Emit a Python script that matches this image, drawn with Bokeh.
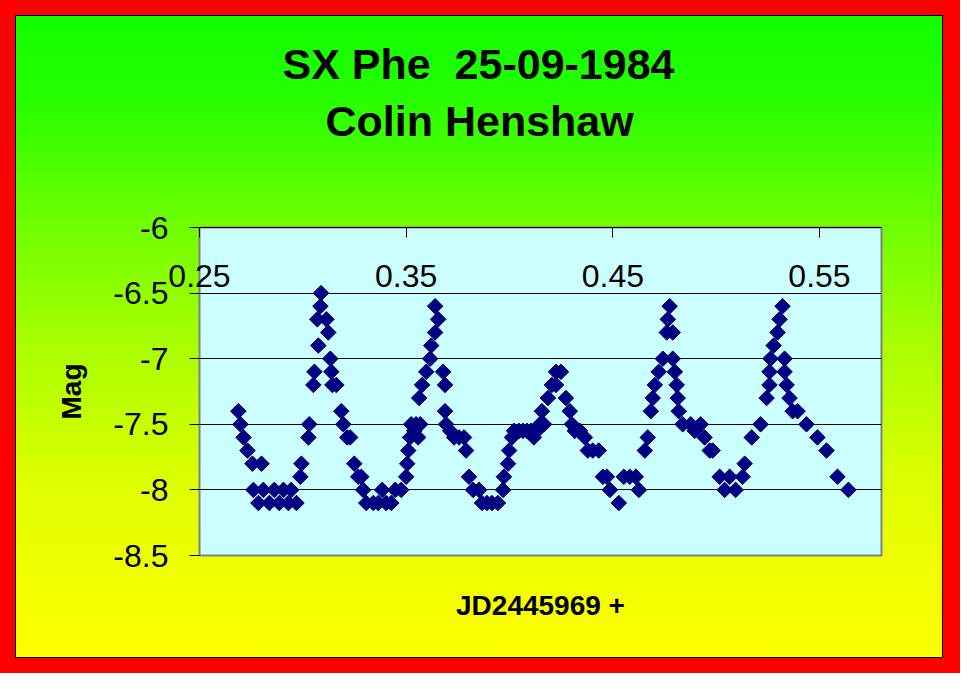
import numpy as np
from bokeh.plotting import figure
from bokeh.models import (Range1d, FixedTicker, LinearAxis, Title,
                          NumeralTickFormatter, ColumnDataSource)
from bokeh.embed import file_html
from bokeh.resources import INLINE

# ---- data ----
jd = [0.2688, 0.2698, 0.2713, 0.2732, 0.2756, 0.2761, 0.2785, 0.2800, 0.2809, 0.2838,
      0.2862, 0.2886, 0.2906, 0.2930, 0.2944, 0.2969, 0.2988, 0.2993, 0.3027, 0.3031,
      0.3051, 0.3056, 0.3070, 0.3075, 0.3085, 0.3088, 0.3114, 0.3123, 0.3133, 0.3138,
      0.3143, 0.3162, 0.3186, 0.3196, 0.3215, 0.3229, 0.3249, 0.3268, 0.3283, 0.3292,
      0.3307, 0.3341, 0.3365, 0.3384, 0.3403, 0.3428, 0.3447, 0.3476, 0.3500, 0.3505,
      0.3510, 0.3519, 0.3524, 0.3539, 0.3548, 0.3558, 0.3563, 0.3568, 0.3577, 0.3597,
      0.3616, 0.3621, 0.3640, 0.3640, 0.3655, 0.3679, 0.3688, 0.3688, 0.3693, 0.3713,
      0.3732, 0.3756, 0.3780, 0.3790, 0.3804, 0.3824, 0.3853, 0.3867, 0.3891, 0.3915,
      0.3944, 0.3969, 0.3973, 0.3993, 0.3998, 0.4012, 0.4022, 0.4046, 0.4065, 0.4085,
      0.4104, 0.4118, 0.4133, 0.4147, 0.4157, 0.4167, 0.4186, 0.4205, 0.4225, 0.4225,
      0.4249, 0.4273, 0.4292, 0.4302, 0.4316, 0.4341, 0.4365, 0.4379, 0.4403, 0.4432,
      0.4452, 0.4471, 0.4486, 0.4529, 0.4553, 0.4582, 0.4611, 0.4626, 0.4655, 0.4669,
      0.4684, 0.4693, 0.4703, 0.4722, 0.4742, 0.4761, 0.4766, 0.4775, 0.4790, 0.4790,
      0.4800, 0.4809, 0.4814, 0.4819, 0.4838, 0.4877, 0.4896, 0.4925, 0.4944, 0.4969,
      0.4983, 0.5017, 0.5041, 0.5065, 0.5094, 0.5128, 0.5138, 0.5172, 0.5215, 0.5244,
      0.5258, 0.5258, 0.5263, 0.5278, 0.5297, 0.5307, 0.5321, 0.5331, 0.5331, 0.5341,
      0.5355, 0.5370, 0.5394, 0.5437, 0.5490, 0.5534, 0.5587, 0.5640]
mag = [-7.4, -7.5, -7.6, -7.7, -7.8, -8.0, -8.1, -7.8, -8.0, -8.1,
       -8.0, -8.1, -8.0, -8.1, -8.0, -8.1, -7.9, -7.8, -7.6, -7.5,
       -7.2, -7.1, -6.7, -6.9, -6.6, -6.5, -6.7, -6.8, -7.0, -7.1,
       -7.2, -7.2, -7.4, -7.5, -7.6, -7.6, -7.8, -7.9, -7.9, -8.0,
       -8.1, -8.1, -8.1, -8.0, -8.1, -8.1, -8.0, -8.0, -7.9, -7.8,
       -7.7, -7.6, -7.5, -7.55, -7.5, -7.6, -7.3, -7.5, -7.2, -7.1,
       -7.0, -6.9, -6.8, -6.6, -6.7, -7.1, -7.2, -7.4, -7.5, -7.55,
       -7.6, -7.6, -7.6, -7.7, -7.9, -8.0, -8.0, -8.1, -8.1, -8.1,
       -8.1, -8.0, -7.9, -7.8, -7.7, -7.6, -7.55, -7.55, -7.55, -7.55,
       -7.55, -7.6, -7.55, -7.5, -7.4, -7.5, -7.3, -7.2, -7.2, -7.1,
       -7.1, -7.3, -7.4, -7.5, -7.55, -7.55, -7.6, -7.7, -7.7, -7.7,
       -7.9, -7.9, -8.0, -8.1, -7.9, -7.9, -7.9, -8.0, -7.7, -7.6,
       -7.4, -7.3, -7.2, -7.1, -7.0, -6.8, -6.7, -6.6, -6.8, -7.0,
       -7.1, -7.2, -7.3, -7.4, -7.5, -7.5, -7.55, -7.5, -7.6, -7.7,
       -7.7, -7.9, -8.0, -7.9, -8.0, -7.9, -7.8, -7.6, -7.5, -7.3,
       -7.2, -7.1, -7.0, -6.9, -6.8, -6.7, -6.6, -7.0, -7.1, -7.2,
       -7.3, -7.4, -7.4, -7.5, -7.6, -7.7, -7.9, -8.0]

x_ticks = [0.25, 0.35, 0.45, 0.55]
y_ticks = [-6.0, -6.5, -7.0, -7.5, -8.0, -8.5]
x_limits = [0.25, 0.58]
y_limits = [-8.5, -6.0]
title_lines = ["SX Phe  25-09-1984", "Colin Henshaw"]
x_title = "JD2445969 +"
y_title = "Mag"

FONT = "Liberation Sans"

bg_css = ("linear-gradient(to bottom, #10ff00 0%, #24ff00 12%, #70ff00 33%, "
          "#a8ff00 51%, #e0ff00 74%, #ffff00 100%) 16px 16px / 926px 641px no-repeat, "
          "linear-gradient(#000000, #000000) 15px 15px / 928px 643px no-repeat, "
          "#ff0000")

p = figure(width=960, height=673, output_backend="svg", toolbar_location=None,
           x_range=Range1d(*x_limits), y_range=Range1d(*y_limits),
           x_axis_location="above",
           min_border_left=199, min_border_right=79,
           min_border_top=227, min_border_bottom=118,
           background_fill_color="#ccffff",
           border_fill_color=None,
           styles={"background": bg_css})

p.outline_line_color = "#808080"
p.outline_line_width = 2

src = ColumnDataSource(dict(jd=jd, mag=mag))
p.scatter("jd", "mag", source=src, marker="square", size=11, angle=np.pi / 4,
          fill_color="#000080", line_color="#000080")

# top x axis (Excel crosses at -6)
xa = p.xaxis[0]
xa.ticker = FixedTicker(ticks=x_ticks)
xa.major_tick_in = 10
xa.major_tick_out = 0
xa.minor_tick_line_color = None
xa.axis_line_color = "black"
xa.major_tick_line_color = "black"
xa.major_label_text_font = FONT
xa.major_label_text_font_size = "32px"
xa.major_label_text_color = "black"
xa.major_label_standoff = -59

# y axis
ya = p.yaxis[0]
ya.ticker = FixedTicker(ticks=y_ticks)
ya.formatter = NumeralTickFormatter(format="0.[0]")
ya.major_tick_in = 0
ya.major_tick_out = 10
ya.minor_tick_line_color = None
ya.axis_line_color = None
ya.major_tick_line_color = "black"
ya.major_label_text_font = FONT
ya.major_label_text_font_size = "32px"
ya.major_label_text_color = "black"
ya.major_label_standoff = 21
ya.axis_label = y_title
ya.axis_label_text_font = FONT
ya.axis_label_text_font_size = "28px"
ya.axis_label_text_font_style = "bold"
ya.axis_label_text_color = "black"
ya.axis_label_standoff = 23

p.xgrid.grid_line_color = None
p.ygrid.ticker = FixedTicker(ticks=y_ticks)
p.ygrid.grid_line_color = "black"
p.ygrid.grid_line_width = 1

# bottom axis only carries the x title
xb = LinearAxis(ticker=FixedTicker(ticks=[]), axis_line_color=None,
                major_tick_line_color=None, minor_tick_line_color=None,
                major_label_text_font_size="0px",
                axis_label=x_title, axis_label_text_font=FONT,
                axis_label_text_font_size="28px", axis_label_text_font_style="bold",
                axis_label_text_color="black", axis_label_standoff=34)
p.add_layout(xb, "below")

# gap between the plot area and the two-line chart title
p.add_layout(Title(text=" ", standoff=28, text_font=FONT, text_font_size="43px"), "above")

# chart title (two lines): second line nearer the plot, added first
title_cfg = [(title_lines[1], 126, 10), (title_lines[0].replace("  ", " \u00a0"), 83, 4)]
for txt, off, so in title_cfg:
    p.add_layout(Title(text=txt, align="left", offset=off, standoff=so,
                       text_font=FONT, text_font_size="43px", text_font_style="bold",
                       text_color="black"), "above")

open("out.html", "w").write(file_html(p, INLINE))
